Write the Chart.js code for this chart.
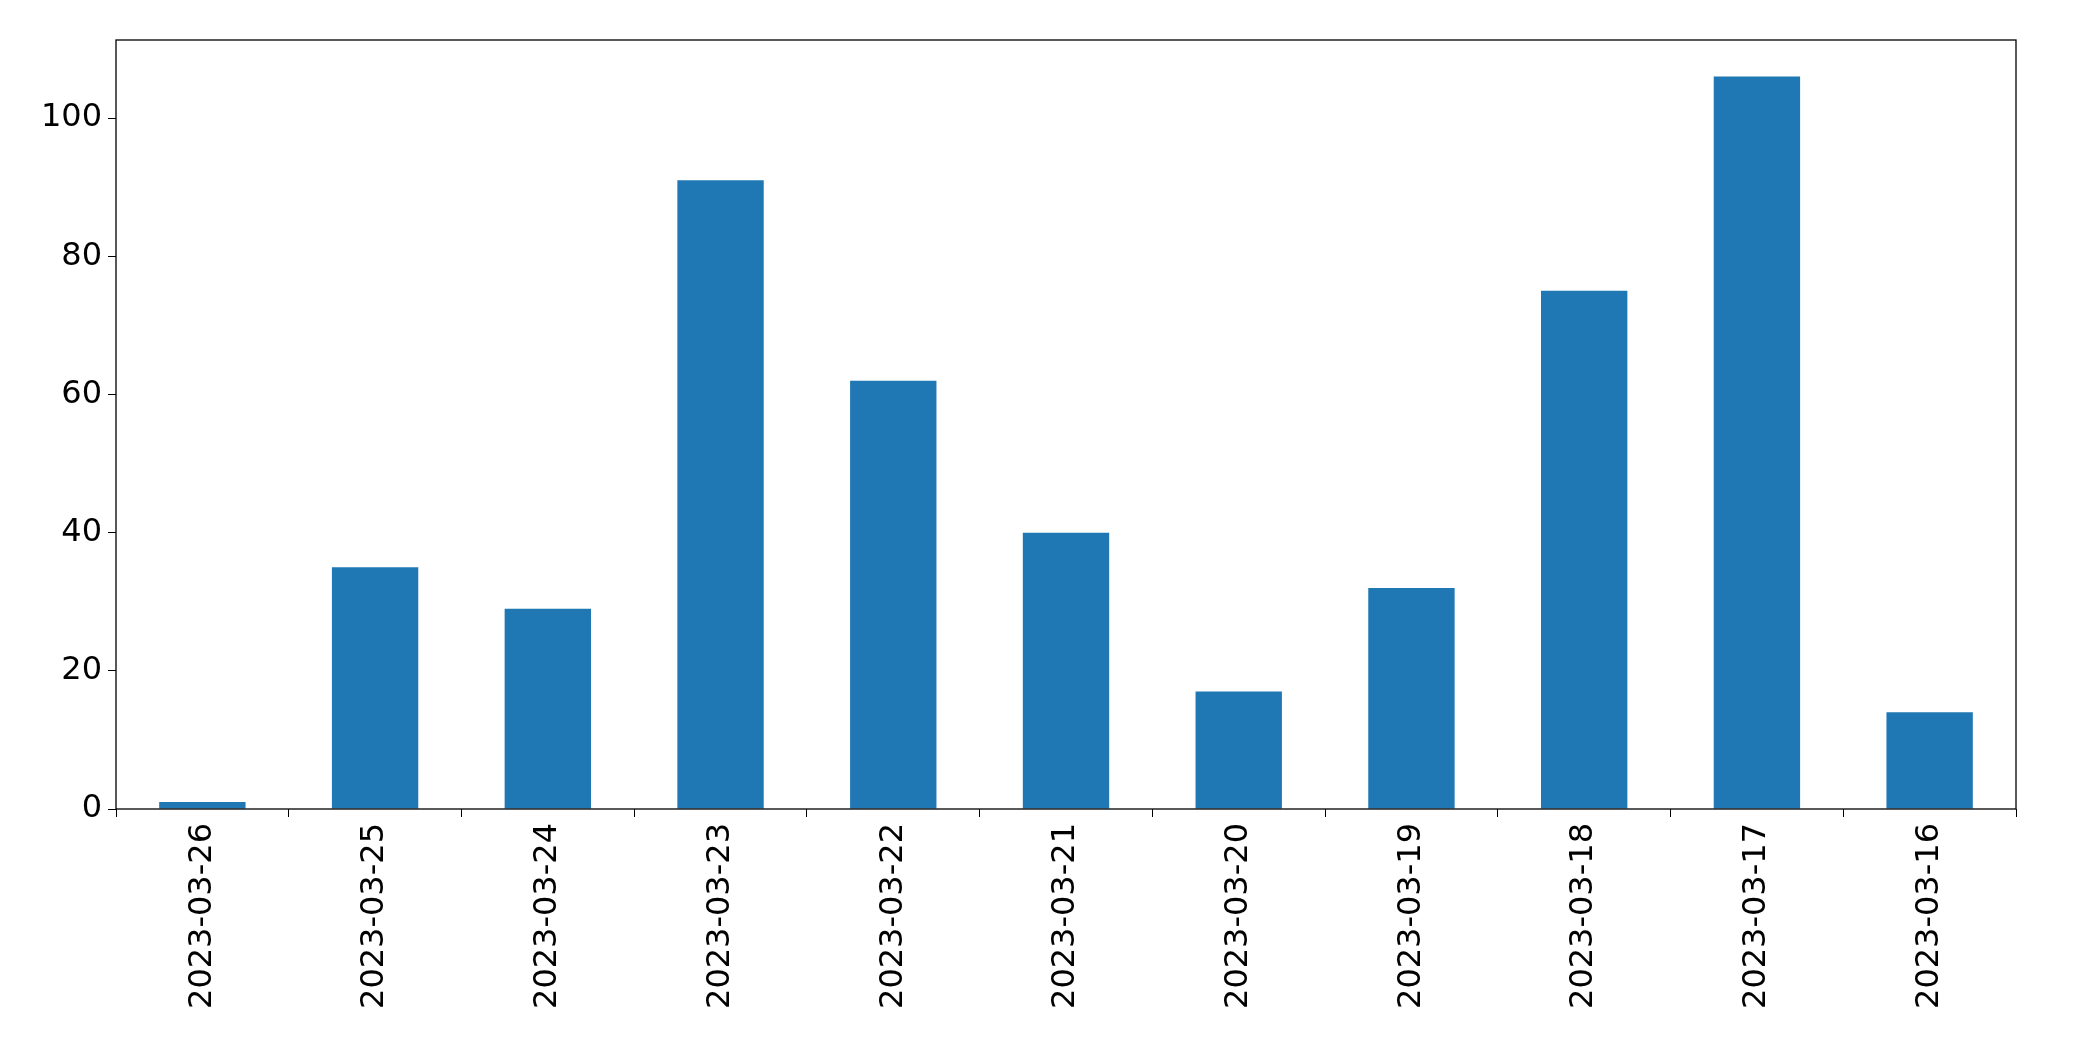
<!DOCTYPE html>
<html lang="en">
<head>
<meta charset="UTF-8">
<title>Chart</title>
<script src="https://cdn.jsdelivr.net/npm/chart.js@4"></script>
<style>
  body { margin: 0; background: #fff; }
</style>
</head>
<body>
<canvas id="chart1" width="2093" height="1061"></canvas>
<script>
  var categories = ["2023-03-26", "2023-03-25", "2023-03-24", "2023-03-23", "2023-03-22", "2023-03-21",
                    "2023-03-20", "2023-03-19", "2023-03-18", "2023-03-17", "2023-03-16"];
  var counts = [1, 35, 29, 91, 62, 40, 17, 32, 75, 106, 14];
  var yTicks = [0, 20, 40, 60, 80, 100];

  var barColor = "#1f77b4";
  var font = { family: "DejaVu Sans", size: 32 };

  // matplotlib-style frame around the plot area
  var framePlugin = {
    id: 'frame',
    afterDraw: function(chart) {
      var a = chart.chartArea, ctx = chart.ctx;
      ctx.save();
      ctx.strokeStyle = "#000";
      ctx.lineWidth = 1.3;
      ctx.strokeRect(a.left, a.top, a.right - a.left, a.bottom - a.top);
      ctx.restore();
    }
  };

  var context1 = document.getElementById('chart1').getContext('2d');
  window.chart1 = new Chart(context1, {
    type: 'bar',
    data: {
      labels: categories,
      datasets: [{
        data: counts,
        backgroundColor: barColor,
        barPercentage: 0.5,
        categoryPercentage: 1.0
      }]
    },
    options: {
      responsive: false,
      animation: false,
      layout: { padding: { top: 40, right: 77, left: 0, bottom: 0 } },
      plugins: { legend: { display: false }, tooltip: { enabled: false } },
      scales: {
        x: {
          grid: { drawOnChartArea: false, drawTicks: true, tickLength: 8, color: "#000" },
          border: { display: false },
          ticks: { color: "#000", font: font, maxRotation: 90, minRotation: 90, padding: 6 },
          afterFit: function(scale) { scale.height = 252; }
        },
        y: {
          min: 0,
          max: 111.3,
          grid: { drawOnChartArea: false, drawTicks: true, tickLength: 8, color: "#000" },
          border: { display: false },
          afterBuildTicks: function(scale) { scale.ticks = yTicks.map(function(v) { return { value: v }; }); },
          ticks: { color: "#000", font: font, padding: 6 },
          afterFit: function(scale) { scale.width = 116; }
        }
      }
    },
    plugins: [framePlugin]
  });
</script>
</body>
</html>
